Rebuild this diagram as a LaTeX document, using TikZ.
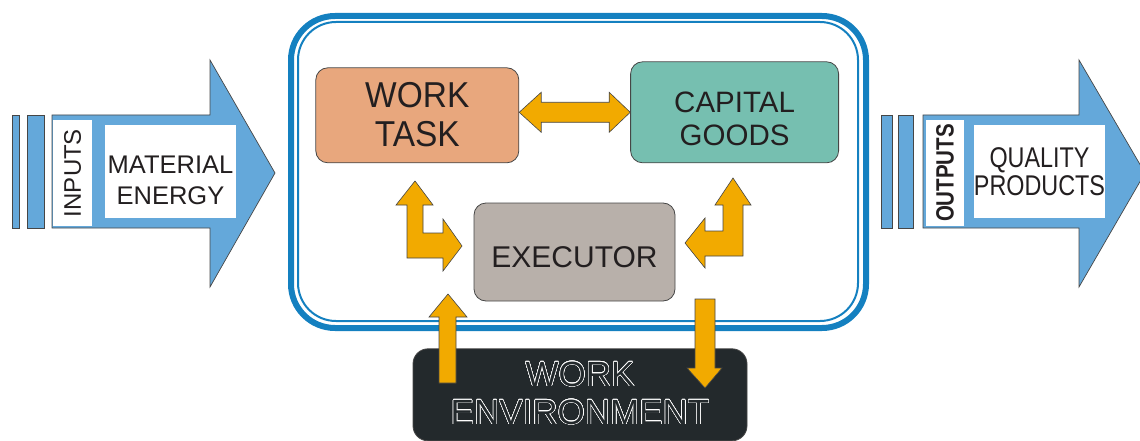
\documentclass[tikz,border=0pt]{standalone}
\usepackage{fontspec,contour}
\setmainfont{Liberation Sans}
\usetikzlibrary{calc,positioning}
\definecolor{frameblue}{RGB}{20,128,192}
\definecolor{flowblue}{RGB}{100,168,218}
\definecolor{taskfill}{RGB}{232,167,125}
\definecolor{goodsfill}{RGB}{118,191,176}
\definecolor{execfill}{RGB}{184,176,170}
\definecolor{envfill}{RGB}{35,41,44}
\definecolor{amber}{RGB}{242,170,0}
\definecolor{edge}{RGB}{70,70,70}
\definecolor{ink}{RGB}{35,31,32}
\contourlength{0.55pt}
\contournumber{24}
\newcommand{\fsize}[2]{\fontsize{#1}{#2}\selectfont}
\newcommand{\caps}[3]{\raisebox{#1}[\height][\depth]{\scalebox{#2}[1]{\begin{tabular}{@{}c@{}}#3\end{tabular}}}}
\newcommand{\hollow}[1]{\contour{white}{#1}}

\begin{document}
\begin{tikzpicture}[x=1pt,y=-1pt,
  box/.style={draw=edge,line width=0.8pt,rounded corners=12pt,inner sep=0pt,text=ink},
  tag/.style={fill=white,inner sep=0pt,text=ink},
  flow/.style={fill=flowblue,draw=edge,line width=0.7pt},
  fat/.style={fill=amber,draw=edge,line width=0.6pt,line join=miter}]
\useasboundingbox (0,0) rectangle (1140,441);
% system boundary: thick outer line, thin inner line
\draw[frameblue,line width=6pt,rounded corners=44pt] (291,16) rectangle (866,328);
\draw[frameblue,line width=2pt,rounded corners=38pt] (298,22) rectangle (858,321);
% input flow
\draw[flow] (12,115) rectangle (19,228);
\draw[flow] (27,115) rectangle (44,228);
\draw[flow] (52,115) -- (210,115) -- (210,60) -- (275,173) -- (210,287) -- (210,228) -- (52,228) -- cycle;
\node[tag,rotate=90,minimum width=106pt,minimum height=39pt,font=\fsize{24}{28}] (in) at (72.5,173) {INPUTS};
\node[tag,minimum width=131pt,minimum height=93pt,font=\fsize{25.5}{31}] (mat) at (170.5,171.5) {\caps{-11pt}{1}{MATERIAL\\ENERGY}};
% output flow
\draw[flow] (881,115) rectangle (892,228);
\draw[flow] (898,115) rectangle (913,228);
\draw[flow] (923,115) -- (1079,115) -- (1079,60) -- (1145,173) -- (1079,287) -- (1079,228) -- (923,228) -- cycle;
\node[tag,rotate=90,minimum width=106pt,minimum height=38pt,font=\bfseries\fsize{25}{28}] (out) at (945,173) {\scalebox{0.82}[1]{OUTPUTS}};
\node[tag,minimum width=131pt,minimum height=93pt,font=\fsize{28.5}{26.5}] (qual) at (1039.5,171.5) {\caps{-4pt}{0.82}{QUALITY\\PRODUCTS}};
% work system
\node[box,fill=taskfill,minimum width=203pt,minimum height=95pt,font=\fsize{36}{39}] (task) at (417.3,115.3) {\caps{-4pt}{0.93}{WORK\\TASK}};
\node[box,fill=goodsfill,minimum width=208pt,minimum height=101pt,font=\fsize{29.5}{33},right=111pt of task.south east,anchor=south west] (goods) {\caps{-10pt}{1}{CAPITAL\\GOODS}};
\node[box,fill=execfill,minimum width=201pt,minimum height=98pt,font=\fsize{30}{36}] (exec) at (574.5,252) {\caps{-8pt}{1}{EXECUTOR}};
\node[box,fill=envfill,text=envfill,rounded corners=15pt,minimum width=334pt,minimum height=92pt,font=\fsize{35}{38},below=47pt of exec,xshift=5.5pt] (env)
  {\caps{-3pt}{1}{\hollow{WORK}\\\hollow{ENVIRONMENT}}};
% block arrows
\draw[fat] (task.east |- goods.west) coordinate (dl) -- ++(22,-20) -- ++(0,10) -- ($(goods.west)+(-21,-10)$) -- ++(0,-10) -- (goods.west)
  -- ++(-21,20) -- ++(0,-10) -- ($(dl)+(22,10)$) -- ++(0,10) -- cycle;
\draw[fat] (415,181) -- (433,205) -- (423,205) -- (423,233) -- (443,233) -- (443,219) -- (462,246) -- (443,271) -- (443,258) -- (407,258) -- (407,205) -- (396,205) -- cycle;
\draw[fat] (733,178) -- (751,205) -- (743,205) -- (743,256) -- (705,256) -- (705,268) -- (685,243) -- (705,218) -- (705,231) -- (723,231) -- (723,205) -- (715,205) -- cycle;
\draw[fat] (439,383) -- (439,317) -- (429,317) -- (448,294) -- (467,317) -- (456,317) -- (456,383) -- cycle;
\draw[fat] (695,299) -- (715,299) -- (715,368) -- (722,368) -- (705,388) -- (687,368) -- (695,368) -- cycle;
\end{tikzpicture}
\end{document}
